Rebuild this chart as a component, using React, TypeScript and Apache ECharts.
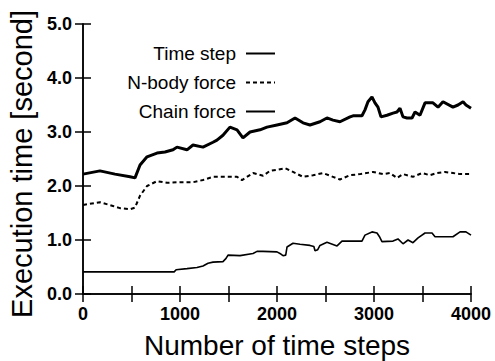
import React, { useEffect, useRef } from "react";
import * as echarts from "echarts";

const seriesNames = ["Time step", "N-body force", "Chain force"];

const timeStepX = [0,175,330,485,536,588,660,763,845,928,969,1072,1134,1237,1340,1381,1443,1515,1588,1649,1722,1825,1897,2000,2103,2186,2268,2340,2443,2515,2577,2649,2753,2784,2876,2907,2938,2979,3010,3041,3072,3134,3196,3237,3268,3299,3340,3392,3423,3474,3526,3608,3660,3711,3814,3866,3918,3948,4000];
const timeStepY = [2.22,2.28,2.22,2.17,2.15,2.39,2.54,2.61,2.63,2.67,2.72,2.67,2.76,2.72,2.81,2.85,2.94,3.09,3.04,2.89,3.00,3.04,3.09,3.13,3.17,3.26,3.17,3.13,3.19,3.26,3.22,3.19,3.28,3.30,3.30,3.41,3.56,3.65,3.54,3.46,3.28,3.31,3.35,3.37,3.44,3.28,3.26,3.26,3.37,3.31,3.54,3.54,3.46,3.56,3.46,3.50,3.56,3.50,3.44];

const nbodyX = [0,175,309,381,485,536,557,588,660,763,866,1000,1134,1237,1340,1443,1588,1639,1753,1856,1928,2000,2082,2165,2268,2371,2474,2577,2649,2753,2856,2990,3093,3165,3237,3299,3402,3495,3577,3649,3732,3814,3887,4000];
const nbodyY = [1.65,1.70,1.63,1.59,1.57,1.60,1.69,1.82,2.00,2.09,2.06,2.07,2.07,2.11,2.17,2.17,2.17,2.11,2.24,2.19,2.28,2.30,2.33,2.26,2.17,2.20,2.24,2.17,2.12,2.20,2.22,2.26,2.22,2.24,2.15,2.22,2.17,2.24,2.20,2.24,2.26,2.24,2.22,2.22];

const chainX = [0,940,960,1072,1175,1237,1289,1340,1443,1475,1495,1619,1753,1794,1856,2000,2040,2062,2090,2103,2165,2237,2340,2380,2392,2420,2443,2515,2619,2670,2876,2907,2979,3031,3060,3082,3196,3247,3299,3351,3402,3454,3526,3598,3629,3814,3887,3948,4000];
const chainY = [0.41,0.41,0.45,0.47,0.49,0.52,0.57,0.59,0.60,0.66,0.72,0.71,0.75,0.79,0.79,0.78,0.74,0.71,0.72,0.87,0.94,0.92,0.90,0.88,0.80,0.82,0.90,0.96,0.89,0.98,0.98,1.09,1.15,1.13,1.05,0.97,0.98,1.02,0.93,1.00,0.95,1.04,1.13,1.13,1.06,1.06,1.15,1.15,1.09];

const xMin = 0, xMax = 4000, xTickStep = 500, xLabelStep = 1000;
const yMin = 0, yMax = 5, yTickStep = 1;

const zip = (xs: number[], ys: number[]) => xs.map((x, i) => [x, ys[i]]);

const FONT = "'Liberation Sans', Arial, Helvetica, sans-serif";

export default function App() {
  const ref = useRef<HTMLDivElement>(null);
  useEffect(() => {
    document.body.style.margin = "0";
    document.body.style.overflow = "hidden";
    const chart = echarts.init(ref.current!, null, { renderer: "svg" });
    const axisLine = { show: true, lineStyle: { color: "#000", width: 1.5 } };
    const axisTick = { show: true, inside: true, length: 8, lineStyle: { color: "#000", width: 1.5 } };
    chart.setOption({
      animation: false,
      backgroundColor: "#fff",
      grid: { left: 83, right: 24, top: 24, bottom: 67, containLabel: false, outerBoundsMode: "none" },
      legend: {
        orient: "vertical",
        align: "right",
        right: 219,
        top: 44,
        padding: 0,
        itemWidth: 29,
        itemHeight: 12,
        itemGap: 10,
        data: seriesNames,
        itemStyle: { opacity: 0 },
        textStyle: { fontFamily: FONT, fontSize: 19, color: "#000", padding: [0, 5, 0, 0] },
      },
      xAxis: [
        {
          type: "value",
          min: xMin,
          max: xMax,
          interval: xTickStep,
          name: "Number of time steps",
          nameLocation: "middle",
          nameGap: 37,
          nameTextStyle: { fontFamily: FONT, fontSize: 28, color: "#000" },
          axisLine,
          axisTick,
          splitLine: { show: false },
          axisLabel: {
            margin: 11,
            fontFamily: FONT,
            fontSize: 18,
            fontWeight: "bold",
            color: "#000",
            formatter: (v: number) => (v % xLabelStep === 0 ? String(v) : ""),
          },
        },
        {
          type: "value",
          position: "top",
          min: xMin,
          max: xMax,
          interval: xTickStep,
          axisLine,
          axisTick,
          splitLine: { show: false },
          axisLabel: { show: false },
        },
      ],
      yAxis: [
        {
          type: "value",
          min: yMin,
          max: yMax,
          interval: yTickStep,
          name: "Execution time [second]",
          nameLocation: "middle",
          nameGap: 45,
          nameTextStyle: { fontFamily: FONT, fontSize: 29, color: "#000", padding: [0, 10, 0, 0] },
          axisLine,
          axisTick,
          splitLine: { show: false },
          axisLabel: {
            margin: 11,
            fontFamily: FONT,
            fontSize: 18,
            fontWeight: "bold",
            color: "#000",
            formatter: (v: number) => v.toFixed(1),
          },
        },
        {
          type: "value",
          position: "right",
          min: yMin,
          max: yMax,
          interval: yTickStep,
          axisLine,
          axisTick,
          splitLine: { show: false },
          axisLabel: { show: false },
        },
      ],
      series: [
        {
          name: seriesNames[0],
          type: "line",
          data: zip(timeStepX, timeStepY),
          showSymbol: false,
          symbol: "none",
          lineStyle: { color: "#000", width: 3 },
          itemStyle: { color: "#000" },
        },
        {
          name: seriesNames[1],
          type: "line",
          data: zip(nbodyX, nbodyY),
          showSymbol: false,
          symbol: "none",
          lineStyle: { color: "#000", width: 2, type: [4, 3] },
          itemStyle: { color: "#000" },
        },
        {
          name: seriesNames[2],
          type: "line",
          data: zip(chainX, chainY),
          showSymbol: false,
          symbol: "none",
          lineStyle: { color: "#000", width: 1.6 },
          itemStyle: { color: "#000" },
        },
      ],
    });
    return () => chart.dispose();
  }, []);
  return <div ref={ref} style={{ width: 495, height: 361, overflow: "hidden" }} />;
}
